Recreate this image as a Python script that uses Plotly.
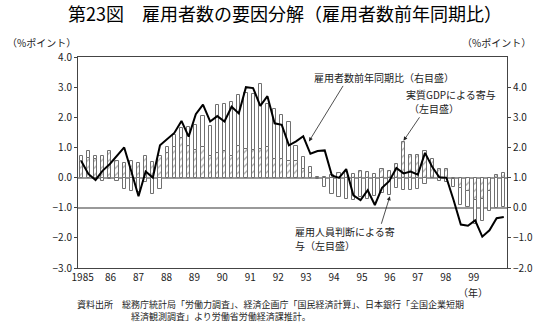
import numpy as np
import plotly.graph_objects as go

# Quarterly data, 1985 Q1 - 1999 Q4
years = ["1985", "86", "87", "88", "89", "90", "91", "92", "93", "94", "95", "96", "97", "98", "99"]
quarters = [f"{1985 + i // 4}Q{i % 4 + 1}" for i in range(60)]

# Contribution of real GDP (%pt, left axis)
gdp_contrib = [
    0.55, 0.65, 0.60, 0.72, 0.88, 0.55, 0.49, 0.55, 0.47, 0.72, 0.53, 0.72,
    0.80, 1.00, 1.30, 1.05, 0.93, 1.00, 0.72, 0.80, 0.88, 0.72, 1.04, 0.95,
    0.90, 0.95, 1.00, 0.62, 0.62, 0.55, 0.55, 0.30, 0.15, 0.03, 0.02, 0.10,
    0.14, 0.20, 0.12, 0.23, 0.18, 0.12, 0.28, 0.23, 0.45, 1.18, 0.75, 0.75,
    0.88, 0.61, 0.28, 0.28, -0.05, -0.35, -0.45, -0.75, -0.70, -0.45, 0.10, 0.15,
]
# Contribution of employment-judgment DI (%pt, left axis)
emp_contrib = [
    0.17, 0.22, 0.10, -0.10, -0.05, -0.10, -0.37, -0.45, -0.48, -0.15, -0.53, -0.37,
    0.20, 0.40, 0.36, 0.64, 0.82, 1.03, 1.00, 1.60, 1.57, 1.80, 1.69, 1.87,
    1.88, 2.17, 1.45, 1.67, 1.45, 1.31, 0.50, 0.37, 0.19, -0.06, -0.32, -0.55,
    -0.64, -0.72, -0.76, -0.64, -0.70, -0.60, -0.52, -0.58, -0.33, -0.42, -0.40, -0.38,
    -0.20, -0.03, -0.10, -0.15, -0.27, -0.56, -0.54, -0.78, -0.75, -0.65, -1.00, -0.97,
]
# Employees, year-on-year change (%, right axis)
employees_yoy = [
    1.55, 1.12, 0.92, 1.23, 1.45, 1.72, 2.00, 1.20, 0.38, 1.20, 1.00, 2.07,
    2.26, 2.48, 2.88, 2.36, 3.10, 3.42, 2.86, 3.04, 2.86, 3.35, 3.13, 4.00,
    3.97, 3.38, 3.70, 2.80, 2.75, 2.07, 2.20, 2.37, 1.79, 1.88, 1.90, 1.07,
    0.99, 1.28, 0.41, 0.25, 0.58, 0.09, 0.66, 0.88, 1.32, 1.14, 1.20, 1.10,
    1.82, 1.36, 1.01, 0.99, 0.25, -0.56, -0.60, -0.42, -0.96, -0.75, -0.35, -0.31,
]

x = np.arange(len(quarters))
jp = "Noto Sans CJK JP"
ink = "#222"

fig = go.Figure()
fig.add_trace(go.Bar(
    x=x, y=gdp_contrib, name="実質GDPによる寄与", width=0.45,
    marker=dict(color="white", line=dict(color="#707070", width=1),
                pattern=dict(shape="/", fgcolor="#555", bgcolor="white", size=5, solidity=0.25)),
))
fig.add_trace(go.Bar(
    x=x, y=emp_contrib, name="雇用人員判断による寄与", width=0.45,
    marker=dict(color="white", line=dict(color="#707070", width=1)),
))
fig.add_trace(go.Scatter(
    x=x, y=employees_yoy, name="雇用者数前年同期比", yaxis="y2", mode="lines",
    line=dict(color="black", width=2),
))

year_ticks = np.arange(len(years)) * 3.9 + 0.2

fig.update_layout(
    width=545, height=322,
    margin=dict(l=78, r=33, t=57, b=54),
    paper_bgcolor="white", plot_bgcolor="white",
    barmode="relative", bargap=0,
    showlegend=False,
    font=dict(family=jp, size=10, color=ink),
    title=dict(text="第23図　雇用者数の要因分解（雇用者数前年同期比）",
               x=0.523, xanchor="center", y=0.953, yanchor="middle",
               font=dict(family=jp, size=18, color="black")),
    xaxis=dict(range=[-0.45, 59.45], tickmode="array", tickvals=year_ticks, ticktext=years,
               ticks="", showgrid=False, zeroline=False, showline=True, mirror=True,
               linecolor="#444", linewidth=1, tickfont=dict(size=10)),
    yaxis=dict(range=[-3, 4], dtick=1, tickformat=".1f", ticks="outside", ticklen=3,
               tickcolor="#444", showgrid=False, zeroline=True, zerolinecolor="#999",
               zerolinewidth=1.5, showline=True, linecolor="#444", linewidth=1,
               tickfont=dict(size=10)),
    yaxis2=dict(range=[-2, 5], tickmode="array", tickvals=[-2, -1, 0, 1, 2, 3, 4],
                tickformat=".1f", overlaying="y", side="right",
                ticks="outside", ticklen=3, tickcolor="#444", showgrid=False,
                zeroline=True, zerolinecolor="#999", zerolinewidth=1.5,
                showline=True, linecolor="#444", linewidth=1, tickfont=dict(size=10)),
)


def label(text, px, py, size=10, anchor="left"):
    """Free text placed by paper coordinates."""
    return dict(text=text, xref="paper", yref="paper", x=px, y=py,
                xanchor=anchor, yanchor="middle", showarrow=False, font=dict(size=size))


def pointer(xv, yv, dx, dy):
    """Thin arrow ending at a data point."""
    return dict(text="", x=xv, y=yv, xref="x", yref="y", showarrow=True, arrowhead=2,
                arrowsize=1, arrowwidth=0.8, arrowcolor=ink, ax=dx, ay=dy)


ann = [
    # axis units
    label("（%ポイント）", -0.17, 1.071),
    label("（%ポイント）", 0.89, 1.071),
    # series labels
    label("雇用者数前年同期比（右目盛）", 0.545, 0.905),
    label("実質GDPによる寄与", 0.760, 0.820),
    label("（左目盛）", 0.768, 0.757),
    label("雇用人員判断による寄", 0.500, 0.171),
    label("与（左目盛）", 0.500, 0.108),
    # pointers
    pointer(31.8, 1.2, 35, -57),
    pointer(45.0, 1.22, 17, -25),
    pointer(43.1, -0.62, -9, 29),
    # year unit and source
    label("（年）", 0.92, -0.118, anchor="center"),
    label("資料出所　総務庁統計局「労働力調査」、経済企画庁「国民経済計算」、日本銀行「全国企業短期",
          -0.007, -0.172, size=9),
    label("経済観測調査」より労働省労働経済課推計。", 0.12, -0.228, size=9),
]
fig.update_layout(annotations=ann)

fig.write_html("out.html")
